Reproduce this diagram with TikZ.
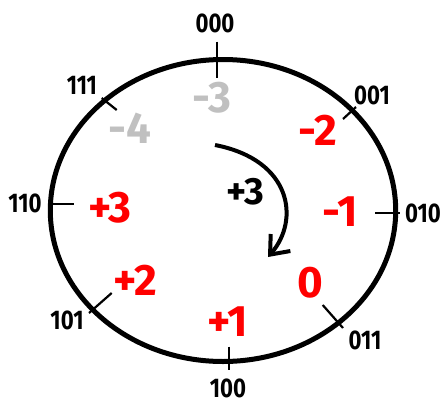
\documentclass[tikz,border=0pt]{standalone}
\usepackage{fontspec}
\setmainfont{Fira Sans}
\usetikzlibrary{arrows.meta}
\definecolor{negred}{RGB}{255,0,0}
\definecolor{outgray}{RGB}{192,192,192}

\begin{document}
\begin{tikzpicture}[x=1pt, y=-1pt, bin/.style={font=\fontsize{27}{27}\selectfont\bfseries, xscale=0.82, inner sep=0pt},
  val/.style={font=\fontsize{44}{44}\selectfont\bfseries, inner sep=0pt, text=negred},
  over/.style={val, text=outgray}, tick/.style={line width=2.2pt}, turn/.style={-{Straight Barb[length=16pt, width=26pt]}, line width=4pt}]
  \useasboundingbox (0,0) rectangle (445,405);
  \draw[line width=5pt] (223,210.5) ellipse [x radius=172.7pt, y radius=151pt];

  % ticks on the wheel
  \coordinate (a000) at (216.7,41.7); \coordinate (b000) at (216.7,78);
  \coordinate (a001) at (343,119); \coordinate (b001) at (356,107);
  \coordinate (a010) at (375,213); \coordinate (b010) at (400,213);
  \coordinate (a011) at (322.7,305); \coordinate (b011) at (343,328);
  \coordinate (a100) at (229.3,346.7); \coordinate (b100) at (229.3,370);
  \coordinate (a101) at (89,313); \coordinate (b101) at (111.7,293);
  \coordinate (a110) at (48,204); \coordinate (b110) at (74,204);
  \coordinate (a111) at (101.7,98); \coordinate (b111) at (116.7,110);
  \foreach \k in {000,001,010,011,100,101,110,111} {\draw[tick] (a\k) -- (b\k);}

  \node[bin] (l000) at (215,23) {000}; \node[bin] (l001) at (372,95) {001};
  \node[bin] (l010) at (423,213) {010}; \node[bin] (l011) at (365,340) {011};
  \node[bin] (l100) at (228,388) {100}; \node[bin] (l101) at (67,320) {101};
  \node[bin] (l110) at (25,203) {110}; \node[bin] (l111) at (82,85) {111};

  \node[over] (m3) at (212,98) {-3}; \node[over] (m4) at (130,128) {-4};
  \node[val] (m2) at (318,130) {-2}; \node[val] (m1) at (340,212) {-1};
  \node[val] (z0) at (310,283) {0}; \node[val] (p1) at (228,322) {+1};
  \node[val] (p2) at (135,280) {+2}; \node[val] (p3) at (110,208) {+3};

  \node[val, text=black, font=\fontsize{38}{38}\selectfont\bfseries] (shift) at (245,192) {+3};
  \coordinate (from) at (215,145); \coordinate (to) at (268,257);
  \draw[turn] (from) .. controls (292,160) and (300,220) .. (to);
\end{tikzpicture}
\end{document}
